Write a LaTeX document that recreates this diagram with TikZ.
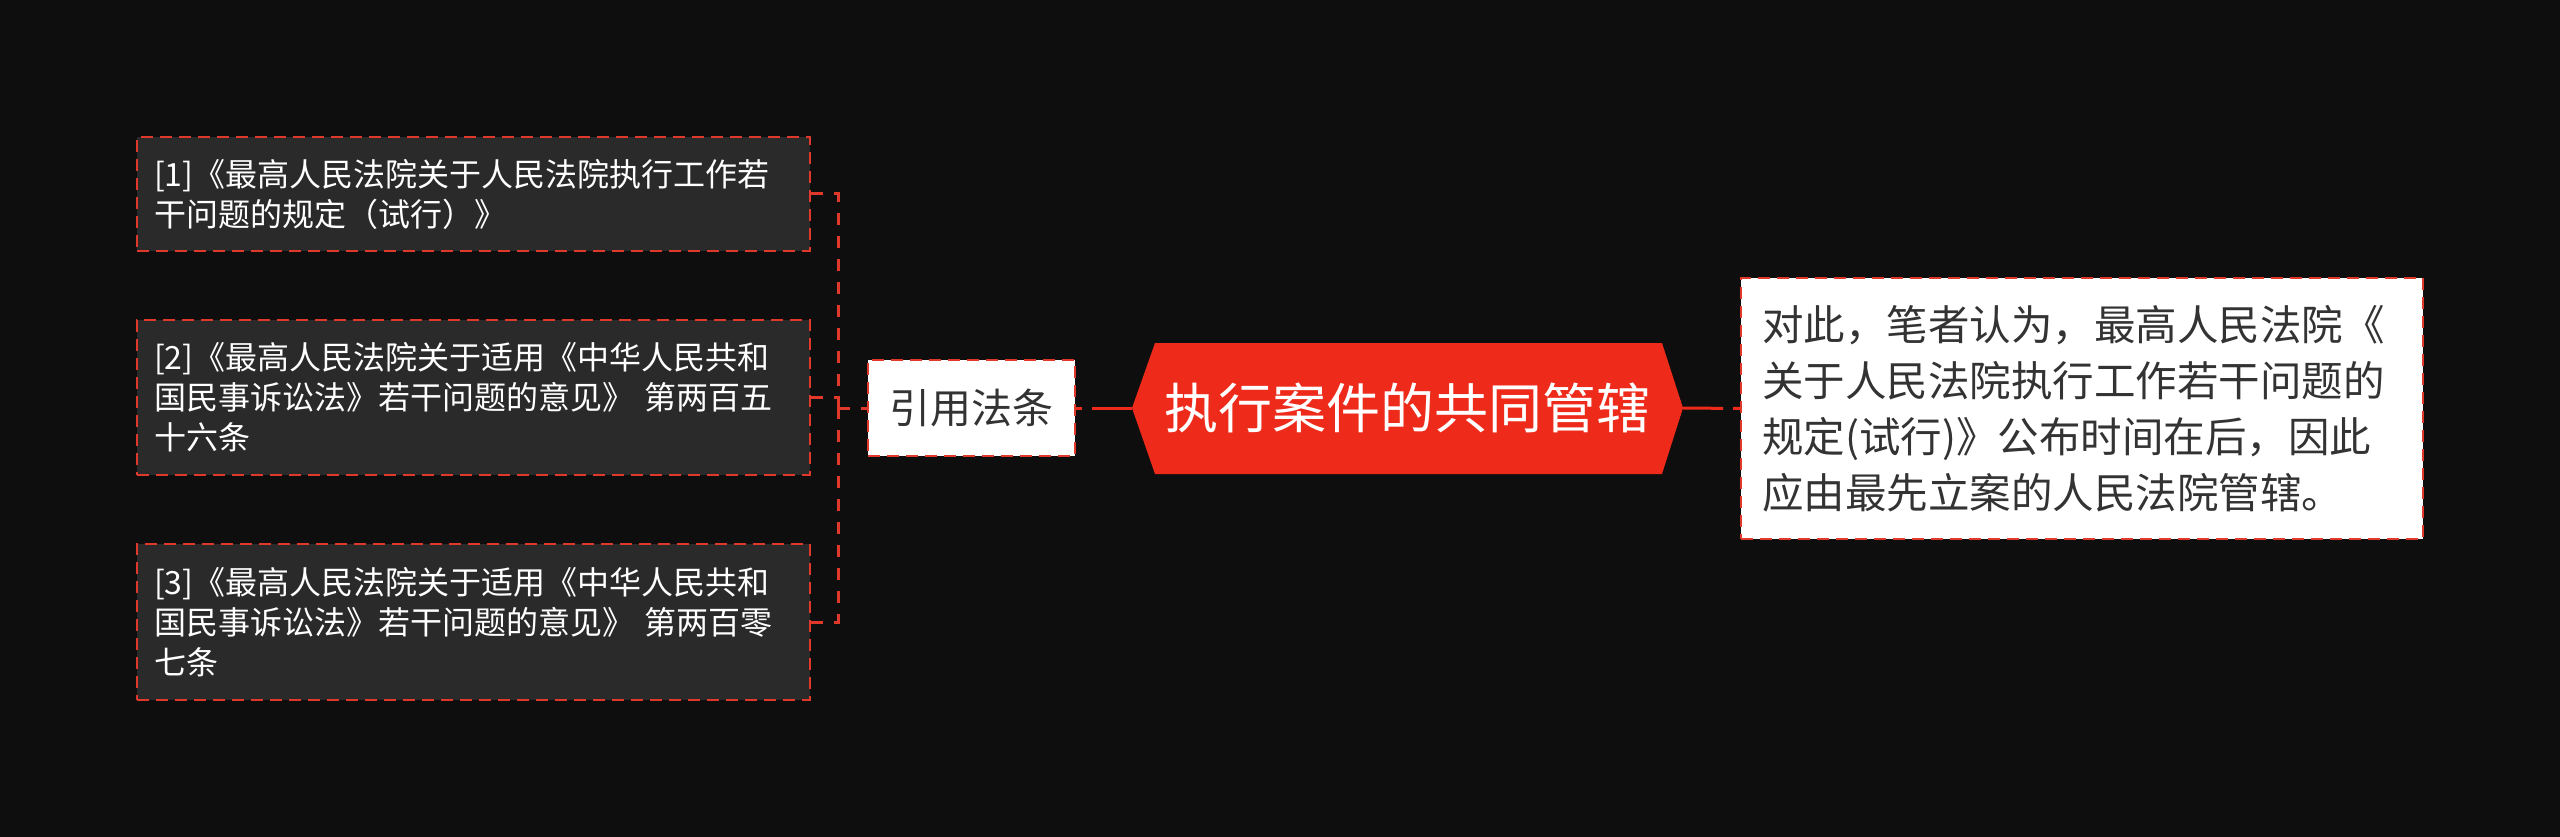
\documentclass[tikz,border=0pt]{standalone}
\usepackage{fontspec}
\setmainfont{Noto Sans CJK SC}
\definecolor{bg}{HTML}{0E0E0E}
\definecolor{boxfill}{HTML}{2A2A2A}
\definecolor{hexred}{HTML}{EE2A1A}
\definecolor{linered}{HTML}{E0392B}
\definecolor{darktext}{HTML}{333333}
\tikzset{
  refbox/.style={draw=linered, line width=2.5pt, dash pattern=on 12pt off 7pt, fill=boxfill,
    text=white, align=left, text width=639pt, inner xsep=17pt, inner ysep=0pt,
    minimum width=673pt, font=\fontsize{32}{40}\selectfont, anchor=center},
  whitebox/.style={draw=linered, line width=2.5pt, dash pattern=on 12pt off 7pt, fill=white,
    text=darktext, inner sep=0pt, anchor=center},
  brk/.style={draw=linered, line width=3pt, dash pattern=on 12pt off 11pt},
  mainconn/.style={draw=hexred, line width=3pt, dash pattern=on 40pt off 10pt},
}
\begin{document}
\begin{tikzpicture}[x=1pt, y=-1pt]
\useasboundingbox[fill=bg] (0,0) rectangle (2560,837);
% left reference boxes
\node[refbox, minimum height=114pt] (b1) at (473.5,194)
  {[1]《最高人民法院关于人民法院执行工作若\\干问题的规定（试行）》};
\node[refbox, minimum height=155pt] (b2) at (473.5,397.5)
  {[2]《最高人民法院关于适用《中华人民共和\\国民事诉讼法》若干问题的意见》 第两百五\\十六条};
\node[refbox, minimum height=156pt] (b3) at (473.5,622)
  {[3]《最高人民法院关于适用《中华人民共和\\国民事诉讼法》若干问题的意见》 第两百零\\七条};
% middle label
\node[whitebox, minimum width=207pt, minimum height=96pt, font=\fontsize{41}{48}\selectfont] (yin) at (971.5,408) {引用法条};
% central hexagon
\coordinate (hl) at (1132,408);
\coordinate (hr) at (1683,408);
\fill[hexred] (hl) -- (1155,343) -- (1662,343) -- (hr) -- (1662,474) -- (1155,474) -- cycle;
\node[text=white, inner sep=0pt, font=\fontsize{54}{60}\selectfont] (main) at (1407.5,408) {执行案件的共同管辖};
% right box
\node[whitebox, minimum width=682pt, minimum height=261pt, text width=640pt, inner xsep=21pt, align=left,
  font=\fontsize{41.5}{56}\selectfont] (note) at (2082,408.5)
  {对此，笔者认为，最高人民法院《\\关于人民法院执行工作若干问题的\\规定(试行)》公布时间在后，因此\\应由最先立案的人民法院管辖。};
% connectors
\coordinate (j) at (838,408);
\draw[brk] (b1.east) -| (j);
\draw[brk] (b2.east) -| (j);
\draw[brk] (b3.east) -| (j);
\draw[brk] (j) -- (yin.west);
\draw[mainconn] (hl) -- (yin.east);
\draw[mainconn] (hr) -- (note.west);
\end{tikzpicture}
\end{document}
